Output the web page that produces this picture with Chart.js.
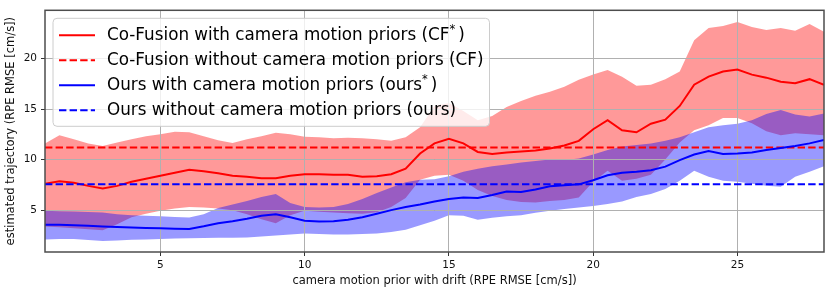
<!DOCTYPE html>
<html>
<head>
<meta charset="utf-8">
<script src="https://cdn.jsdelivr.net/npm/chart.js@4.4.1/dist/chart.umd.min.js"></script>
<style>
  html, body { margin: 0; padding: 0; background: #fff; }
  #wrap { width: 831px; height: 287px; position: relative; }
</style>
</head>
<body>
<div id="wrap"><canvas id="chart"></canvas></div>
<script>
// drift values on the x axis (RPE RMSE of the simulated prior)
const driftX = [1, 1.5, 2, 2.5, 3, 3.5, 4, 4.5, 5, 5.5, 6, 6.5, 7, 7.5, 8, 8.5, 9, 9.5, 10, 10.5,
                11, 11.5, 12, 12.5, 13, 13.5, 14, 14.5, 15, 15.5, 16, 16.5, 17, 17.5, 18, 18.5, 19, 19.5, 20, 20.5,
                21, 21.5, 22, 22.5, 23, 23.5, 24, 24.5, 25, 25.5, 26, 26.5, 27, 27.5, 28];

// Co-Fusion with priors: mean and band
const cfMean = [7.6, 7.86, 7.7, 7.4, 7.15, 7.4, 7.8, 8.1, 8.4, 8.7, 9.0, 8.85, 8.65, 8.4, 8.3, 8.15, 8.15, 8.4, 8.55, 8.55,
                8.5, 8.5, 8.3, 8.35, 8.55, 9.1, 10.6, 11.6, 12.05, 11.6, 10.75, 10.55, 10.7, 10.8, 10.9, 11.1, 11.4, 11.85, 13.0, 13.9,
                12.9, 12.7, 13.55, 13.95, 15.3, 17.4, 18.2, 18.7, 18.9, 18.4, 18.1, 17.7, 17.55, 17.95, 17.4];
const cfHi = [11.6, 12.4, 12.0, 11.6, 11.35, 11.7, 12.0, 12.3, 12.5, 12.75, 12.7, 12.3, 11.9, 11.65, 12.0, 12.3, 12.65, 12.5, 12.26, 12.2,
              12.1, 12.15, 12.1, 12.0, 11.85, 12.2, 13.2, 15.3, 15.6, 14.8, 13.9, 14.3, 15.2, 15.8, 16.3, 16.7, 17.2, 17.9, 18.4, 18.85,
              18.2, 17.3, 17.4, 17.95, 18.7, 21.8, 23.0, 23.2, 23.6, 23.1, 22.8, 23.0, 22.75, 23.4, 22.63];
const cfLo = [3.37, 3.3, 3.22, 3.1, 3.0, 3.6, 4.3, 4.65, 4.93, 5.15, 5.3, 5.25, 5.15, 5.0, 4.6, 4.1, 3.7, 4.5, 4.95, 4.85,
              4.77, 4.7, 4.65, 4.8, 5.3, 6.2, 8.0, 8.4, 8.5, 7.9, 7.0, 6.4, 6.0, 5.8, 5.75, 5.9, 6.0, 6.25, 7.8, 8.9,
              7.9, 8.1, 8.5, 10.0, 11.7, 12.9, 13.4, 14.1, 14.1, 13.6, 12.8, 12.4, 12.6, 12.5, 12.4];

// ours with priors: mean and band
const oursMean = [3.56, 3.55, 3.5, 3.45, 3.37, 3.32, 3.28, 3.24, 3.2, 3.17, 3.14, 3.4, 3.7, 3.9, 4.15, 4.45, 4.6, 4.3, 3.95, 3.88,
                  3.9, 4.05, 4.3, 4.65, 5.0, 5.3, 5.55, 5.85, 6.1, 6.25, 6.2, 6.5, 6.85, 6.8, 7.05, 7.35, 7.45, 7.55, 7.95, 8.45,
                  8.7, 8.8, 8.95, 9.3, 9.95, 10.5, 10.85, 10.55, 10.6, 10.7, 10.95, 11.15, 11.35, 11.6, 11.95];
const oursHi = [4.93, 4.9, 4.87, 4.82, 4.77, 4.6, 4.5, 4.45, 4.4, 4.32, 4.28, 4.6, 5.2, 5.55, 5.9, 6.3, 6.6, 5.7, 5.3, 5.25,
                5.3, 5.6, 6.1, 6.7, 7.25, 7.75, 8.0, 8.05, 8.35, 8.8, 9.1, 9.35, 9.5, 9.7, 9.85, 10.0, 9.95, 10.1, 10.5, 10.95,
                11.3, 11.45, 11.6, 11.85, 12.2, 12.7, 13.2, 13.4, 13.55, 13.9, 14.5, 14.9, 14.45, 14.25, 14.55];
const oursLo = [2.1, 2.15, 2.15, 2.05, 1.95, 2.0, 2.07, 2.1, 2.15, 2.2, 2.22, 2.25, 2.27, 2.27, 2.3, 2.4, 2.5, 2.6, 2.7, 2.65,
                2.6, 2.6, 2.65, 2.7, 2.85, 3.05, 3.5, 3.96, 4.5, 4.45, 4.05, 4.25, 4.4, 4.5, 4.75, 4.95, 5.1, 5.25, 5.4, 5.6,
                5.85, 6.3, 6.6, 7.1, 7.9, 8.9, 8.3, 7.9, 7.8, 7.6, 7.4, 7.3, 8.3, 8.8, 9.33];

// runs without priors (constant)
const cfBaseline = 11.2;
const oursBaseline = 7.55;

const xTicks = [5, 10, 15, 20, 25];
const yTicks = [5, 10, 15, 20];

const legendLabels = [
    'Co-Fusion with camera motion priors (CF*)',
    'Co-Fusion without camera motion priors (CF)',
    'Ours with camera motion priors (ours*)',
    'Ours without camera motion priors (ours)'
];
const legendStyles = [
    { color: '#ff0000', dash: [] },
    { color: '#ff0000', dash: [7.4, 3.2] },
    { color: '#0000ff', dash: [] },
    { color: '#0000ff', dash: [7.4, 3.2] }
];

const FONT = "'DejaVu Sans', sans-serif";
Chart.defaults.font.family = FONT;

function points(arr) {
    return arr.map((y, i) => ({ x: driftX[i], y: y }));
}
function flat(v) {
    return [{ x: driftX[0], y: v }, { x: driftX[driftX.length - 1], y: v }];
}

const plain = { pointRadius: 0, pointHoverRadius: 0, tension: 0 };

// index 0 is drawn on top, last index at the bottom
const datasets = [
    { ...plain, label: 'ours', data: flat(oursBaseline), borderColor: '#0000ff', borderWidth: 2, borderDash: [7.4, 3.2], fill: false },
    { ...plain, label: 'ours*', data: points(oursMean), borderColor: '#0000ff', borderWidth: 2, fill: false },
    { ...plain, label: 'CF', data: flat(cfBaseline), borderColor: '#ff0000', borderWidth: 2, borderDash: [7.4, 3.2], fill: false },
    { ...plain, label: 'CF*', data: points(cfMean), borderColor: '#ff0000', borderWidth: 2, fill: false },
    { ...plain, label: 'ours hi', data: points(oursHi), borderWidth: 0, borderColor: 'rgba(0,0,0,0)',
      backgroundColor: 'rgba(0,0,255,0.4)', fill: '+1' },
    { ...plain, label: 'ours lo', data: points(oursLo), borderWidth: 0, borderColor: 'rgba(0,0,0,0)', fill: false },
    { ...plain, label: 'CF hi', data: points(cfHi), borderWidth: 0, borderColor: 'rgba(0,0,0,0)',
      backgroundColor: 'rgba(255,0,0,0.4)', fill: '+1' },
    { ...plain, label: 'CF lo', data: points(cfLo), borderWidth: 0, borderColor: 'rgba(0,0,0,0)', fill: false }
];

// grid goes above the shaded bands but under the lines
const gridOverBands = {
    id: 'gridOverBands',
    afterDatasetDraw(chart, args) {
        if (args.index !== 4) return;
        chart.scales.x.drawGrid(chart.chartArea);
        chart.scales.y.drawGrid(chart.chartArea);
    }
};

const frameAndLegend = {
    id: 'frameAndLegend',
    afterDraw(chart) {
        const ctx = chart.ctx;
        const a = chart.chartArea;
        ctx.save();
        ctx.strokeStyle = '#4d4d4d';
        ctx.lineWidth = 1.5;
        ctx.strokeRect(a.left, a.top, a.right - a.left, a.bottom - a.top);

        // legend box
        const fontSize = 16.8;
        const supSize = 11.5;
        ctx.font = fontSize + 'px ' + FONT;
        let maxW = 0;
        legendLabels.forEach(t => {
            const parts = t.split('*');
            let w = ctx.measureText(parts[0]).width;
            if (parts.length > 1) {
                ctx.font = supSize + 'px ' + FONT;
                w += ctx.measureText('*').width + 3;
                ctx.font = fontSize + 'px ' + FONT;
                w += ctx.measureText(parts[1]).width;
            }
            maxW = Math.max(maxW, w);
        });
        const bx = a.left + 8, by = a.top + 8;
        const rowH = 25;
        const textX = bx + 54;
        const bw = 54 + maxW + 6;
        const bh = rowH * legendLabels.length + 8;
        ctx.beginPath();
        ctx.roundRect(bx, by, bw, bh, 4);
        ctx.fillStyle = 'rgba(255,255,255,0.8)';
        ctx.fill();
        ctx.strokeStyle = '#cccccc';
        ctx.lineWidth = 1;
        ctx.stroke();

        legendLabels.forEach((t, i) => {
            const cy = by + 17 + i * rowH;
            const st = legendStyles[i];
            ctx.beginPath();
            ctx.setLineDash(st.dash);
            ctx.strokeStyle = st.color;
            ctx.lineWidth = 2;
            ctx.moveTo(bx + 6, cy);
            ctx.lineTo(bx + 42, cy);
            ctx.stroke();
            ctx.setLineDash([]);

            ctx.fillStyle = '#000';
            ctx.textBaseline = 'middle';
            ctx.textAlign = 'left';
            const parts = t.split('*');
            ctx.font = fontSize + 'px ' + FONT;
            ctx.fillText(parts[0], textX, cy);
            if (parts.length > 1) {
                let x = textX + ctx.measureText(parts[0]).width;
                ctx.font = supSize + 'px ' + FONT;
                ctx.fillText('*', x, cy - 5);
                x += ctx.measureText('*').width + 3;
                ctx.font = fontSize + 'px ' + FONT;
                ctx.fillText(parts[1], x, cy);
            }
        });
        ctx.restore();
    }
};

const gridOpts = { color: '#b0b0b0', lineWidth: 1, tickColor: '#333', tickLength: 4, drawTicks: true };

new Chart(document.getElementById('chart'), {
    type: 'line',
    data: { datasets: datasets },
    options: {
        responsive: true,
        maintainAspectRatio: false,
        animation: false,
        events: [],
        layout: { padding: { top: 7, right: 7, left: 0, bottom: 0 } },
        plugins: {
            legend: { display: false },
            tooltip: { enabled: false },
            filler: { propagate: false }
        },
        scales: {
            x: {
                type: 'linear',
                min: 1,
                max: 28,
                afterBuildTicks: s => { s.ticks = xTicks.map(v => ({ value: v })); },
                afterFit: s => { s.height = 35; },
                ticks: { color: '#111', font: { size: 10.5 }, padding: 3, autoSkip: false, maxRotation: 0 },
                grid: gridOpts,
                border: { display: false },
                title: {
                    display: true,
                    text: 'camera motion prior with drift (RPE RMSE [cm/s])',
                    color: '#111',
                    font: { size: 11.5 },
                    padding: { top: 0, bottom: -1 }
                }
            },
            y: {
                type: 'linear',
                min: 0.86,
                max: 24.76,
                afterBuildTicks: s => { s.ticks = yTicks.map(v => ({ value: v })); },
                afterFit: s => { s.width = 45; },
                ticks: { color: '#111', font: { size: 10.5 }, padding: 4, autoSkip: false },
                grid: gridOpts,
                border: { display: false },
                title: {
                    display: true,
                    text: 'estimated trajectory (RPE RMSE [cm/s])',
                    color: '#111',
                    font: { size: 11.5 },
                    padding: { top: 4, bottom: 0 }
                }
            }
        }
    },
    plugins: [gridOverBands, frameAndLegend]
});
</script>
</body>
</html>
